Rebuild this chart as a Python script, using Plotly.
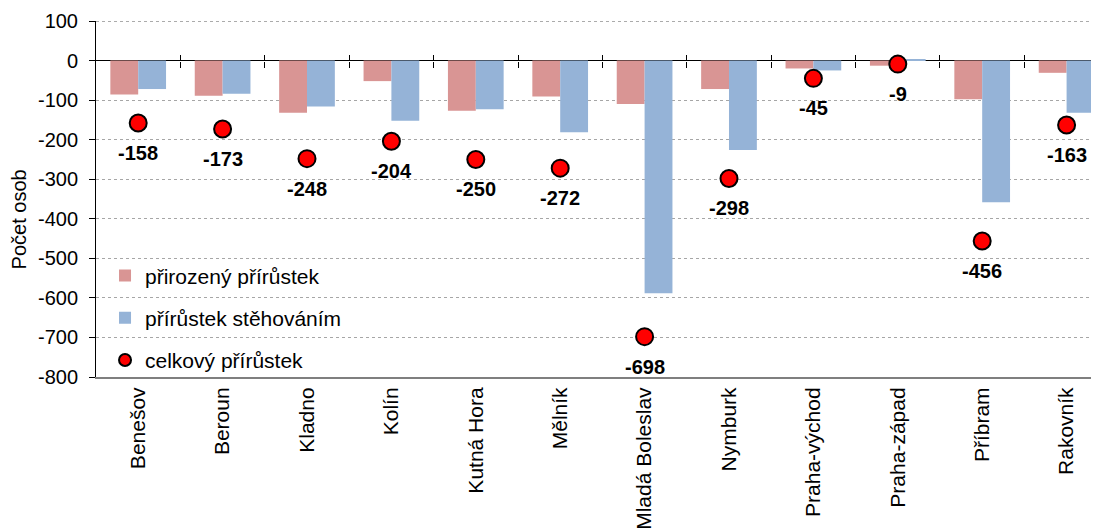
import plotly.graph_objects as go

categories = ["Benešov", "Beroun", "Kladno", "Kolín", "Kutná Hora", "Mělník",
              "Mladá Boleslav", "Nymburk", "Praha-východ", "Praha-západ", "Příbram", "Rakovník"]
prirozeny = [-86, -89, -132, -52, -127, -91, -110, -72, -20, -13, -98, -31]
stehovani = [-72, -84, -116, -152, -123, -181, -588, -226, -25, 4, -358, -132]
celkovy = [-158, -173, -248, -204, -250, -272, -698, -298, -45, -9, -456, -163]
y_ticks = [100, 0, -100, -200, -300, -400, -500, -600, -700, -800]
y_title = "Počet osob"

FONT = "Liberation Sans, Arial, sans-serif"
idx = list(range(len(categories)))

fig = go.Figure()
fig.add_trace(go.Bar(x=idx, y=prirozeny, name="přirozený přírůstek",
                     marker=dict(color="#D99594", line=dict(width=0)),
                     legendgroup="a"))
fig.add_trace(go.Bar(x=idx, y=stehovani, name="přírůstek stěhováním",
                     marker=dict(color="#95B3D7", line=dict(width=0)),
                     legendgroup="b"))
fig.add_trace(go.Scatter(x=idx, y=celkovy, name="celkový přírůstek", mode="markers",
                         marker=dict(color="#FF0000", size=17, line=dict(color="black", width=2)),
                         legendgroup="c"))

for i, v in zip(idx, celkovy):
    fig.add_annotation(x=i, y=v, text=f"<b>{v}</b>", showarrow=False, yshift=-30,
                       font=dict(family=FONT, size=20, color="black"))

fig.add_annotation(x=-0.0773, y=0.444, xref="paper", yref="paper", text=y_title,
                   textangle=-90, showarrow=False, xanchor="center", yanchor="middle",
                   font=dict(family=FONT, size=20, color="black"))

xr = [-0.5, 11.384]
fig.update_layout(
    width=1091, height=523,
    margin=dict(l=88, r=0, t=13, b=154),
    paper_bgcolor="white", plot_bgcolor="white",
    barmode="group", bargap=0.34, bargroupgap=0,
    font=dict(family=FONT, size=19, color="black"),
    showlegend=True,
    legend=dict(x=0.009, y=0.342, xanchor="left", yanchor="top",
                bgcolor="rgba(0,0,0,0)", font=dict(size=21),
                tracegroupgap=12, itemsizing="constant"),
    xaxis=dict(range=xr, tickmode="array", tickvals=idx, ticktext=categories,
               tickangle=-90, showgrid=False, showline=True, linecolor="#7f7f7f",
               linewidth=2, ticks="", zeroline=False, tickfont=dict(size=21),
               automargin=False),
    xaxis2=dict(overlaying="x", anchor="free", position=8/9, range=xr,
                tickmode="array", tickvals=[i + 0.5 for i in idx[:-1]],
                ticks="outside", ticklen=6, tickcolor="black", showticklabels=False,
                showgrid=False, showline=False, zeroline=False),
    xaxis3=dict(overlaying="x", anchor="free", position=8/9, range=xr,
                tickmode="array", tickvals=[i + 0.5 for i in idx[:-1]],
                ticks="inside", ticklen=6, tickcolor="black", showticklabels=False,
                showgrid=False, showline=False, zeroline=False),
    yaxis=dict(range=[-800, 100], tickmode="array", tickvals=y_ticks,
               ticktext=[str(v) for v in y_ticks],
               showgrid=True, gridcolor="#a6a6a6", griddash="dot", gridwidth=1,
               zeroline=True, zerolinecolor="black", zerolinewidth=1,
               showline=True, linecolor="black", linewidth=1,
               ticks="outside", ticklen=6, tickcolor="black", ticklabelstandoff=7,
               tickfont=dict(size=20), automargin=False),
)
fig.add_trace(go.Scatter(x=[None], y=[None], xaxis="x2", showlegend=False, hoverinfo="skip"))
fig.add_trace(go.Scatter(x=[None], y=[None], xaxis="x3", showlegend=False, hoverinfo="skip"))
fig.add_shape(type="line", xref="paper", yref="y", x0=0, x1=1, y0=100, y1=100,
              line=dict(color="#595959", width=1, dash="dot"))

fig.write_html("out.html")
